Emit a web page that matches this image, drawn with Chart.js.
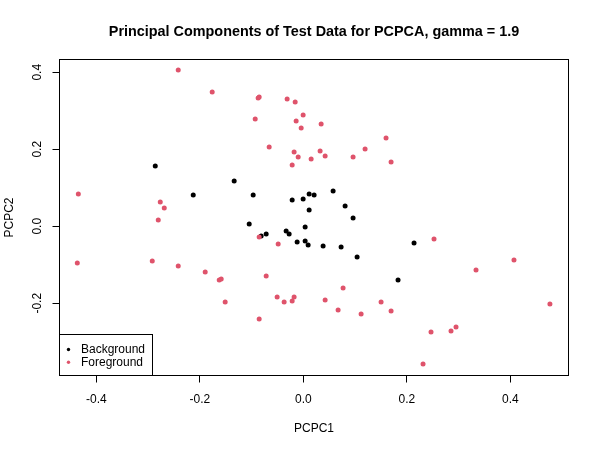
<!DOCTYPE html>
<html><head><meta charset="utf-8">
<script src="https://cdn.jsdelivr.net/npm/chart.js@4/dist/chart.umd.min.js"></script>
<style>html,body{margin:0;padding:0;background:#fff}#wrap{width:600px;height:450px}</style>
</head><body><div id="wrap"><canvas id="c" width="600" height="450"></canvas></div>
<script>
const titleText = "Principal Components of Test Data for PCPCA, gamma = 1.9";
const xLabel = "PCPC1";
const yLabel = "PCPC2";
const seriesNames = ["Background", "Foreground"];
const seriesColors = ["#000000", "#DF536B"];

const bgX = [-0.2861,-0.1336,-0.2127,-0.0969,-0.0216,-0.0004,0.0112,0.0208,0.0112,0.0575,0.0807,0.0961,-0.1046,-0.0815,-0.0718,-0.0332,-0.0274,0.0035,-0.0120,0.0035,0.0093,0.0382,0.0730,0.1039,0.2139,0.1830];
const bgY = [0.1566,0.1177,0.0813,0.0813,0.0683,0.0709,0.0839,0.0813,0.0423,0.0917,0.0527,0.0216,0.0060,-0.0252,-0.0200,-0.0122,-0.0200,-0.0018,-0.0408,-0.0382,-0.0486,-0.0512,-0.0538,-0.0797,-0.0434,-0.1395];

const fgX = [-0.2417,-0.1761,-0.0873,-0.0853,-0.0313,-0.0158,-0.0004,-0.0139,-0.0042,-0.0930,-0.0660,-0.0178,-0.0100,0.0151,-0.0216,0.0324,0.0344,0.1598,0.1193,0.0421,0.0961,0.1695,-0.4347,-0.2764,-0.2687,-0.2803,-0.0853,-0.0486,-0.4367,-0.2919,-0.2417,-0.1896,-0.1625,-0.1587,-0.0718,-0.1510,-0.0506,-0.0371,-0.0216,-0.0178,-0.0853,0.2525,0.4070,0.3336,0.0768,0.0421,0.0672,0.1502,0.1695,0.1116,0.4764,0.2467,0.2853,0.2950,0.2313];
const fgY = [0.4060,0.3488,0.3333,0.3359,0.3306,0.3229,0.2891,0.2735,0.2553,0.2787,0.2060,0.1930,0.1800,0.1748,0.1592,0.1956,0.2657,0.2293,0.2008,0.1826,0.1800,0.1670,0.0839,0.0631,0.0475,0.0164,-0.0278,-0.0460,-0.0953,-0.0901,-0.1031,-0.1187,-0.1395,-0.1369,-0.1291,-0.1966,-0.1836,-0.1966,-0.1940,-0.1836,-0.2408,-0.0330,-0.0876,-0.1135,-0.1603,-0.1914,-0.2174,-0.1966,-0.2200,-0.2278,-0.2018,-0.2745,-0.2719,-0.2616,-0.3577];

const xTicks = [-0.4, -0.2, 0, 0.2, 0.4];
const yTicks = [-0.2, 0, 0.2, 0.4];

const FONT = '"Liberation Sans", Arial, sans-serif';

function toPoints(xs, ys) { return xs.map((x, i) => ({x: x, y: ys[i]})); }

const boxPlugin = {
  id: 'rbox',
  afterDraw(chart) {
    const ctx = chart.ctx, a = chart.chartArea;
    ctx.save();
    ctx.strokeStyle = '#000';
    ctx.lineWidth = 1;
    const L = Math.floor(a.left) + 0.5, R = Math.floor(a.right) + 0.5;
    const T = Math.floor(a.top) + 0.5, B = Math.floor(a.bottom) + 0.5;
    ctx.strokeRect(L, T, R - L, B - T);
    // legend (bottomleft)
    ctx.font = '12px ' + FONT;
    const labels = chart.data.datasets.map(d => d.label);
    const maxW = Math.max(...labels.map(t => ctx.measureText(t).width));
    const textX = L + 21.5;
    const boxR = Math.round(textX + maxW + 7) + 0.5;
    const boxT = B - 41;
    ctx.fillStyle = '#fff';
    ctx.fillRect(L, boxT, boxR - L, B - boxT);
    ctx.strokeRect(L, boxT, boxR - L, B - boxT);
    ctx.textBaseline = 'middle';
    ctx.textAlign = 'left';
    chart.data.datasets.forEach((d, i) => {
      const y = boxT + 15 + i * 12.7;
      ctx.fillStyle = d.backgroundColor;
      ctx.beginPath();
      ctx.arc(L + 9, y, 1.7, 0, Math.PI * 2);
      ctx.fill();
      ctx.fillStyle = '#000';
      ctx.fillText(d.label, textX, y);
    });
    ctx.restore();
  }
};

new Chart(document.getElementById('c'), {
  type: 'scatter',
  data: {
    datasets: [
      {label: seriesNames[0], data: toPoints(bgX, bgY), backgroundColor: seriesColors[0], borderColor: seriesColors[0], pointRadius: 2.5, borderWidth: 0, order: 1},
      {label: seriesNames[1], data: toPoints(fgX, fgY), backgroundColor: seriesColors[1], borderColor: seriesColors[1], pointRadius: 2.5, borderWidth: 0, order: 0}
    ]
  },
  options: {
    responsive: false,
    animation: false,
    devicePixelRatio: 1,
    layout: {padding: {left: 0, right: 31.5, top: 0, bottom: 0}},
    plugins: {
      legend: {display: false},
      tooltip: {enabled: false},
      title: {
        display: true, text: titleText, fullSize: false, color: '#000',
        font: {family: FONT, size: 14.4, weight: 'bold'},
        padding: {top: 23.4, bottom: 18.8}
      }
    },
    scales: {
      x: {
        type: 'linear', min: -0.4711, max: 0.5123,
        afterFit(s) { s.height = 74.5; },
        afterBuildTicks(s) { s.ticks = xTicks.map(v => ({value: v})); },
        grid: {display: true, drawOnChartArea: false, drawTicks: true, tickLength: 7, color: '#000', lineWidth: 1},
        border: {display: false},
        ticks: {color: '#000', font: {family: FONT, size: 12}, padding: 9.8, autoSkip: false, maxRotation: 0,
          callback: v => v.toFixed(1)},
        title: {display: true, text: xLabel, color: '#000', font: {family: FONT, size: 12}, padding: {top: 0, bottom: 14}}
      },
      y: {
        type: 'linear', min: -0.3876, max: 0.4332,
        afterFit(s) { s.width = 59.5; },
        afterBuildTicks(s) { s.ticks = yTicks.map(v => ({value: v})); },
        grid: {display: true, drawOnChartArea: false, drawTicks: true, tickLength: 7, color: '#000', lineWidth: 1},
        border: {display: false},
        ticks: {color: '#000', font: {family: FONT, size: 12}, padding: 4.2, autoSkip: false,
          minRotation: 90, maxRotation: 90, crossAlign: 'center',
          callback: v => v.toFixed(1)},
        title: {display: true, text: yLabel, color: '#000', font: {family: FONT, size: 12}, padding: {top: 2, bottom: 0}}
      }
    }
  },
  plugins: [boxPlugin]
});
</script>
</body></html>
